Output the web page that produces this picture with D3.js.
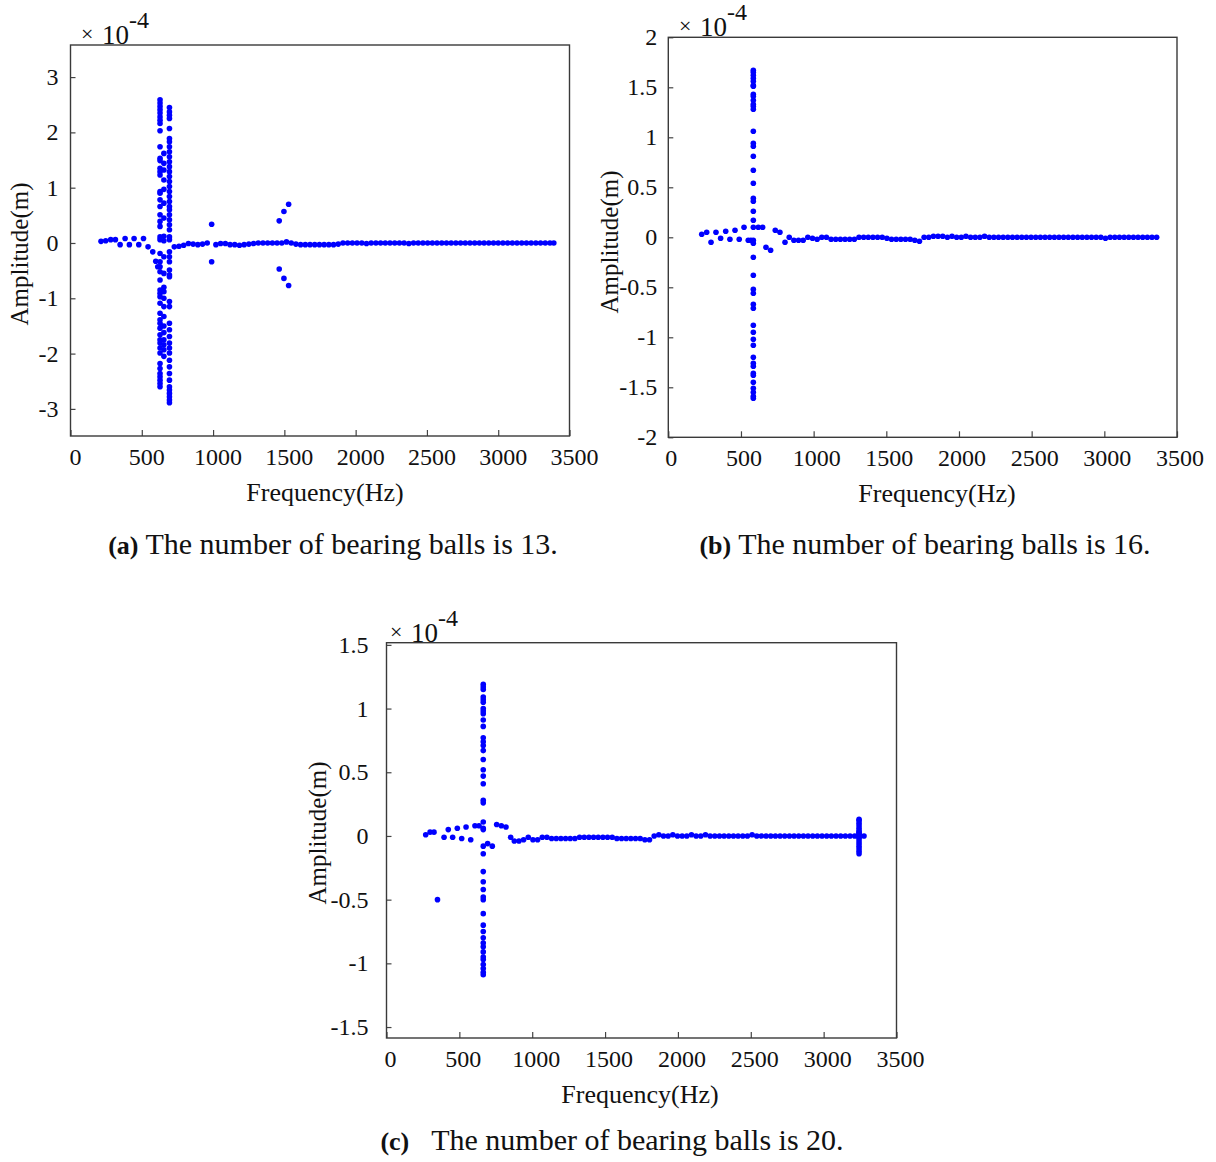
<!DOCTYPE html>
<html>
<head>
<meta charset="utf-8">
<script src="https://cdn.jsdelivr.net/npm/d3@7"></script>
<style>
  body { margin: 0; background: #fff; }
  svg { display: block; }
  text { font-family: "Liberation Serif", "Times New Roman", serif; fill: #111; }
</style>
</head>
<body>
<svg id="fig" width="1216" height="1162"></svg>
<script>
// ---------- Amplitude spectra (amplitude in units of 1e-4 m, frequency in Hz) ----------

// (a) 13 bearing balls
const lowHzA  = [214, 247, 282, 315, 348, 383, 413, 446, 479, 512, 544, 577, 598, 612];
const lowAmpA = [0.03, 0.04, 0.06, 0.06, -0.03, 0.08, -0.03, 0.08, -0.03, 0.08, -0.07, -0.16, -0.33, -0.43];
const peakHzA1 = 628;
const peakAmpA1 = [2.59, 2.53, 2.47, 2.41, 2.35, 2.28, 2.22, 2.16, 2.03, 1.74, 1.53, 1.49, 1.35, 1.29, 1.23,
  0.93, 0.90, 0.78, 0.66, 0.51, 0.39, 0.30, 0.11, 0.06, -0.19, -0.34, -0.43, -0.52, -0.67, -0.85, -0.91,
  -0.97, -1.09, -1.27, -1.39, -1.45, -1.54, -1.66, -1.75, -1.81, -1.90, -1.99, -2.18, -2.27, -2.36, -2.42,
  -2.48, -2.54, -2.60];
const peakHzA2 = 694;
const peakAmpA2 = [2.45, 2.37, 2.31, 2.25, 2.07, 1.89, 1.83, 1.74, 1.65, 1.56, 1.47, 1.38, 1.29, 1.20, 1.11,
  1.02, 0.93, 0.84, 0.75, 0.66, 0.60, 0.51, 0.42, 0.33, 0.24, 0.11, 0.06, -0.16, -0.25, -0.34, -0.49, -0.58,
  -0.61, -1.06, -1.15, -1.45, -1.57, -1.69, -1.81, -1.90, -1.99, -2.12, -2.24, -2.36, -2.48, -2.60, -2.66,
  -2.72, -2.78, -2.84, -2.89];
const peakHzA3 = 655;
const peakAmpA3 = [1.62, 1.44, 1.32, 1.14, 0.97, 0.72, 0.45, 0.12, 0.04, -0.25, -0.55, -0.80, -0.88, -1.00,
  -1.15, -1.33, -1.50, -1.62, -1.75, -1.84, -1.93, -2.05];
const sideHzA  = [990, 990, 1464, 1497, 1530, 1464, 1497, 1530];
const sideAmpA = [0.34, -0.34, 0.40, 0.57, 0.70, -0.47, -0.64, -0.77];
const sweepHzA = [728, 761, 794, 827, 860, 893, 926, 959,
  1020, 1053, 1086, 1119, 1152, 1185, 1218, 1251, 1284, 1317, 1350, 1383, 1416, 1449, 1482,
  1515, 1548,
  1581, 1614, 1647, 1680, 1713, 1746, 1779, 1812, 1845, 1878,
  1911, 1944, 1977, 2010, 2043, 2076, 2109, 2142, 2175, 2208, 2241, 2274, 2307, 2340, 2373,
  2406, 2439, 2472, 2505, 2538, 2571, 2604, 2637, 2670, 2703, 2736, 2769, 2802, 2835, 2868,
  2901, 2934, 2967, 3000, 3033, 3066, 3099, 3132, 3165, 3198, 3231, 3264, 3297, 3330, 3363,
  3390];
const sweepAmpA = [-0.07, -0.06, -0.04, -0.01, -0.02, -0.03, -0.02, 0.00,
  -0.03, -0.01, -0.01, -0.03, -0.03, -0.04, -0.03, -0.02, -0.01, 0.00, 0.00, 0.00, 0.00, 0.00, 0.00,
  0.02, 0.00,
  -0.02, -0.03, -0.03, -0.03, -0.03, -0.03, -0.03, -0.03, -0.03, -0.02,
  0.00, 0.00, 0.00, 0.00, 0.00, -0.01, 0.00, 0.00, 0.00, 0.00, 0.00, 0.00, 0.00, 0.00, -0.01,
  0.00, 0.00, 0.00, 0.00, 0.00, 0.00, 0.00, 0.00, 0.00, 0.00, 0.00, 0.00, 0.00, 0.00, 0.00,
  0.00, 0.00, 0.00, 0.00, 0.00, 0.00, 0.00, 0.00, 0.00, 0.00, 0.00, 0.00, 0.00, 0.00, 0.00,
  0.00];

// (b) 16 bearing balls
const lowHzB  = [230, 264, 294, 328, 360, 395, 424, 459, 488, 521, 550, 568, 619, 649, 672, 704, 736, 768, 803];
const lowAmpB = [0.03, 0.05, -0.05, 0.05, -0.01, 0.06, -0.02, 0.07, -0.02, 0.10, -0.03, -0.03, 0.10, 0.10, -0.10, -0.13, 0.07, 0.05, -0.05];
const peakHzB = 585;
const peakAmpB = [1.67, 1.65, 1.62, 1.59, 1.56, 1.52, 1.51, 1.43, 1.41, 1.37, 1.33, 1.31, 1.28, 1.06, 0.94,
  0.91, 0.81, 0.67, 0.54, 0.39, 0.36, 0.26, 0.17, 0.10, -0.03, -0.06, -0.20, -0.38, -0.52, -0.56, -0.67,
  -0.71, -0.88, -0.95, -1.02, -1.08, -1.20, -1.26, -1.29, -1.36, -1.38, -1.45, -1.51, -1.55, -1.59, -1.61];
const sweepHzB = [832, 864, 896, 928, 960, 992, 1024, 1056, 1088, 1120, 1152, 1184, 1216, 1248, 1280,
  1312, 1344, 1376, 1408, 1440, 1472, 1504, 1536, 1568, 1600, 1632, 1664, 1696, 1728,
  1760, 1792, 1824, 1856, 1888, 1920, 1952, 1984, 2016, 2048, 2080, 2112, 2144, 2176, 2208,
  2240, 2272, 2304, 2336, 2368, 2400, 2432, 2464, 2496, 2528, 2560, 2592, 2624, 2656, 2688,
  2720, 2752, 2784, 2816, 2848, 2880, 2912, 2944, 2976, 3008, 3040, 3072, 3104, 3136, 3168,
  3200, 3232, 3264, 3296, 3328, 3360];
const sweepAmpB = [0.00, -0.03, -0.03, -0.03, 0.00, -0.01, -0.02, 0.00, 0.00, -0.02, -0.02, -0.02, -0.02, -0.02, -0.02,
  0.00, 0.00, 0.00, 0.00, 0.00, 0.00, -0.01, -0.02, -0.02, -0.02, -0.02, -0.02, -0.03, -0.04,
  0.00, 0.00, 0.01, 0.01, 0.01, 0.00, 0.01, 0.00, 0.00, 0.01, 0.00, 0.00, 0.00, 0.01, 0.00,
  0.00, 0.00, 0.00, 0.00, 0.00, 0.00, 0.00, 0.00, 0.00, 0.00, 0.00, 0.00, 0.00, 0.00, 0.00,
  0.00, 0.00, 0.00, 0.00, 0.00, 0.00, 0.00, 0.00, 0.00, -0.01, 0.00, 0.00, 0.00, 0.00, 0.00,
  0.00, 0.00, 0.00, 0.00, 0.00, 0.00];

// (c) 20 bearing balls
const lowHzC  = [269, 299, 326, 350, 395, 424, 454, 486, 516, 546, 578, 607, 635, 694, 726, 756, 788, 820, 852];
const lowAmpC = [0.01, 0.03, 0.03, -0.50, -0.01, 0.05, -0.01, 0.06, -0.02, 0.07, -0.03, 0.08, 0.08, -0.06, -0.08, 0.09, 0.08, 0.07, -0.01];
const peakHzC = 664;
const peakAmpC = [1.19, 1.17, 1.15, 1.09, 1.07, 1.05, 1.00, 0.98, 0.96, 0.91, 0.86, 0.77, 0.74, 0.71, 0.67,
  0.60, 0.52, 0.47, 0.41, 0.28, 0.26, 0.11, 0.06, 0.05, -0.08, -0.14, -0.28, -0.36, -0.42, -0.48, -0.50,
  -0.61, -0.70, -0.75, -0.80, -0.84, -0.87, -0.91, -0.95, -0.97, -1.01, -1.04, -1.07, -1.09];
const sweepHzC = [877, 909, 941, 973, 1005, 1037, 1069, 1101, 1133, 1165, 1197, 1229, 1261, 1293, 1325,
  1357, 1389, 1421, 1453, 1485, 1517, 1549, 1581, 1613, 1645, 1677, 1709, 1741, 1773, 1805,
  1837, 1869, 1901, 1933, 1965, 1997, 2029, 2061, 2093, 2125, 2157, 2189, 2221, 2253, 2285,
  2317, 2349, 2381, 2413, 2445, 2477, 2509, 2541, 2573, 2605, 2637, 2669, 2701, 2733, 2765,
  2797, 2829, 2861, 2893, 2925, 2957, 2989, 3021, 3053, 3085, 3117, 3149, 3181, 3213, 3277];
const sweepAmpC = [-0.04, -0.04, -0.03, -0.01, -0.03, -0.03, -0.01, -0.01, -0.02, -0.02, -0.02, -0.02, -0.02, -0.02, -0.01,
  -0.01, -0.01, -0.01, -0.01, -0.01, -0.01, -0.01, -0.02, -0.02, -0.02, -0.02, -0.02, -0.02, -0.03, -0.03,
  0.00, 0.01, 0.00, 0.00, 0.01, 0.00, 0.00, 0.00, 0.01, 0.00, 0.00, 0.01, 0.00, 0.00, 0.00,
  0.00, 0.00, 0.00, 0.00, 0.00, 0.00, 0.01, 0.00, 0.00, 0.00, 0.00, 0.00, 0.00, 0.00, 0.00,
  0.00, 0.00, 0.00, 0.00, 0.00, 0.00, 0.00, 0.00, 0.00, 0.00, 0.00, 0.00, 0.00, 0.00, 0.00];
const edgeHzC = 3243;
const edgeAmpC = [0.13, 0.12, 0.10, 0.08, 0.06, 0.04, 0.03, 0.02, 0.01, 0.00, -0.01, -0.02, -0.04, -0.06, -0.08, -0.10, -0.12, -0.14];

// Axis ticks and captions
const xTickValues = [0, 500, 1000, 1500, 2000, 2500, 3000, 3500];
const yTicksA = [-3, -2, -1, 0, 1, 2, 3];
const yTicksB = [-2, -1.5, -1, -0.5, 0, 0.5, 1, 1.5, 2];
const yTicksC = [-1.5, -1, -0.5, 0, 0.5, 1, 1.5];
const captionTags = ["(a)", "(b)", "(c)"];
const captionTexts = ["The number of bearing balls is 13.", "The number of bearing balls is 16.", "The number of bearing balls is 20."];
const xTitle = "Frequency(Hz)";
const yTitle = "Amplitude(m)";

// ---------- helpers ----------
function zipPoints(hz, amp) { return hz.map((h, i) => ({ hz: h, amp: amp[i] })); }
function column(hz, amps) { return amps.map(a => ({ hz: hz, amp: a })); }

const svg = d3.select("#fig");
svg.append("rect").attr("width", 1216).attr("height", 1162).attr("fill", "#fff");

function label(g, x, y, s, o = {}) {
  return g.append("text")
    .attr("transform", `translate(${x},${y})` + (o.rotate ? ` rotate(${o.rotate})` : ""))
    .attr("text-anchor", o.anchor || "middle")
    .style("font-size", (o.size || 24) + "px")
    .style("font-weight", o.weight || "normal")
    .text(s);
}

function drawPanel(p) {
  const g = svg.append("g");
  const x = d3.scaleLinear().domain([0, 3500]).range([p.left, p.right]);
  const y = d3.scaleLinear().domain(p.yDomain).range([p.bottom, p.top]);

  // tick marks (inward), via d3 axes
  g.append("g").attr("transform", `translate(0,${p.bottom})`)
    .call(d3.axisBottom(x).tickValues(xTickValues).tickSizeInner(-6).tickSizeOuter(0).tickFormat(""))
    .call(s => s.select(".domain").remove())
    .call(s => s.selectAll("line").attr("stroke", "#444").attr("stroke-width", 1.2));
  g.append("g").attr("transform", `translate(${p.left},0)`)
    .call(d3.axisLeft(y).tickValues(p.yTicks).tickSizeInner(-5).tickSizeOuter(0).tickFormat(""))
    .call(s => s.select(".domain").remove())
    .call(s => s.selectAll("line").attr("stroke", "#444").attr("stroke-width", 1.2));

  // frame
  g.append("rect").attr("x", p.left).attr("y", p.top)
    .attr("width", p.right - p.left).attr("height", p.bottom - p.top)
    .attr("fill", "none").attr("stroke", "#3a3a3a").attr("stroke-width", 1.4);

  // tick labels
  xTickValues.forEach(v => label(g, x(v) + p.xLabelShift, p.bottom + 29, String(v)));
  p.yTicks.forEach(v => label(g, p.left - p.yLabelGap, y(v) + 8, String(v), { anchor: "end" }));

  // exponent marker
  label(g, p.expX, p.top - 4, "\u00d7", { anchor: "start", size: 22 });
  label(g, p.expX + 21, p.top - 1, "10", { anchor: "start", size: 27 });
  label(g, p.expX + 48, p.top - 17, "-4", { anchor: "start", size: 24 });

  // axis titles
  label(g, p.xTitleX, p.bottom + 65, xTitle, { size: 26 });
  label(g, p.yTitleX, p.yTitleY, yTitle, { size: 25, rotate: -90 });

  // caption
  const cap = g.append("text")
    .attr("x", p.captionX).attr("y", p.bottom + p.captionDy)
    .attr("text-anchor", "middle").style("font-size", "30px");
  cap.append("tspan").style("font-weight", "bold").style("font-size", "26px").text(p.tag);
  cap.append("tspan").text(p.gap + p.caption);

  // points
  g.append("g").selectAll("circle").data(p.points).join("circle")
    .attr("cx", d => x(d.hz)).attr("cy", d => y(d.amp))
    .attr("r", 2.8).attr("fill", "#0000ff");
}

drawPanel({
  left: 70.5, right: 569.5, top: 45, bottom: 436, yDomain: [-3.49, 3.58], yTicks: yTicksA,
  xLabelShift: 5, yLabelGap: 12, expX: 81, xTitleX: 325, yTitleX: 28, yTitleY: 254, captionX: 333, captionDy: 118,
  tag: captionTags[0], gap: " ", caption: captionTexts[0],
  points: [].concat(zipPoints(lowHzA, lowAmpA), column(peakHzA1, peakAmpA1), column(peakHzA2, peakAmpA2),
    column(peakHzA3, peakAmpA3), zipPoints(sideHzA, sideAmpA), zipPoints(sweepHzA, sweepAmpA))
});

drawPanel({
  left: 668.3, right: 1177, top: 37.3, bottom: 437.3, yDomain: [-2, 2], yTicks: yTicksB,
  xLabelShift: 3, yLabelGap: 11, expX: 679, xTitleX: 937, yTitleX: 618, yTitleY: 242, captionX: 925, captionDy: 117,
  tag: captionTags[1], gap: " ", caption: captionTexts[1],
  points: [].concat(zipPoints(lowHzB, lowAmpB), column(peakHzB, peakAmpB), zipPoints(sweepHzB, sweepAmpB))
});

drawPanel({
  left: 386.5, right: 896.5, top: 642.7, bottom: 1038, yDomain: [-1.586, 1.517], yTicks: yTicksC,
  xLabelShift: 4, yLabelGap: 18, expX: 390, xTitleX: 640, yTitleX: 326, yTitleY: 833, captionX: 612, captionDy: 112,
  tag: captionTags[2], gap: "\u00a0\u00a0 ", caption: captionTexts[2],
  points: [].concat(zipPoints(lowHzC, lowAmpC), column(peakHzC, peakAmpC), zipPoints(sweepHzC, sweepAmpC),
    column(edgeHzC, edgeAmpC))
});
</script>
</body>
</html>
